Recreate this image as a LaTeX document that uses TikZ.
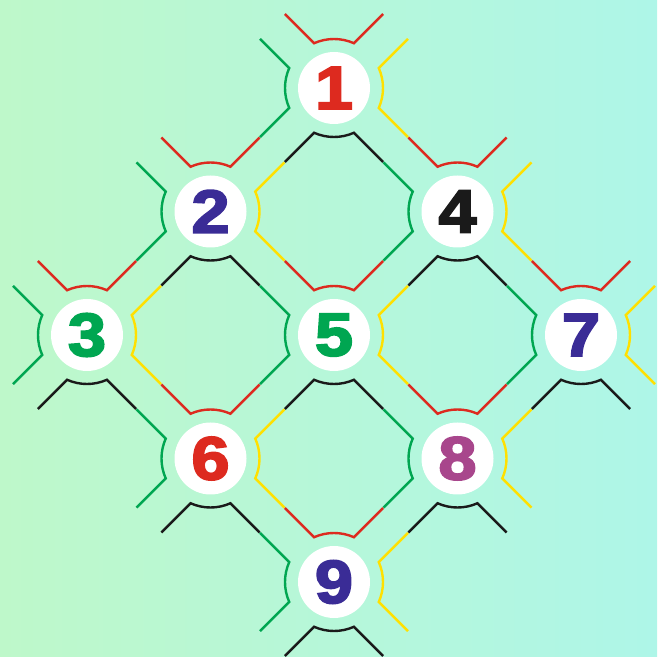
\documentclass[tikz,border=0pt]{standalone}
\usepackage{fontspec}
\newfontfamily\numfont{Liberation Sans Bold}[FakeBold=3]
\usetikzlibrary{calc}
\definecolor{bgL}{HTML}{BEF8CA}
\definecolor{bgR}{HTML}{AEF6E8}
\definecolor{cred}{HTML}{DD2A1F}
\definecolor{cgreen}{HTML}{00A651}
\definecolor{cyellow}{HTML}{FFE000}
\definecolor{cblack}{HTML}{1A1A1A}
\definecolor{cindigo}{HTML}{3A2C96}
\definecolor{cmagenta}{HTML}{A8468C}
\tikzset{
  numnode/.style={circle, fill=white, minimum size=72pt, inner sep=0pt,
    font=\numfont\fontsize{61}{61}\selectfont},
  arcline/.style={line width=2.4pt, line cap=butt, line join=miter}
}
\newcommand{\guard}[3]{% node, angle, colour
  \draw[arcline, #3] ($(#1.center)+(#2-24:49)+(#2-45:41.3)$) -- ($(#1.center)+(#2-24:49)$)
     arc[start angle=#2-24, end angle=#2+24, radius=49] -- ++(#2+45:41.3);
}
\newcommand{\dg}[1]{\scalebox{1.12}[1]{#1}}
\begin{document}
\begin{tikzpicture}[x=1pt,y=1pt]
\useasboundingbox (0,0) rectangle (657,657);
\shade[left color=bgL, right color=bgR] (0,0) rectangle (657,657);
\def\s{123.5}
\begin{scope}
\clip (0,0) rectangle (657,657);
\node[numnode, text=cred]     (n1) at (334, {322+2*\s}) {\dg{1}};
\node[numnode, text=cindigo]  (n2) at ({334-\s}, {322+\s}) {\dg{2}};
\node[numnode, text=cblack]   (n4) at ({334+\s}, {322+\s}) {\dg{4}};
\node[numnode, text=cgreen]   (n3) at ({334-2*\s}, 322) {\dg{3}};
\node[numnode, text=cgreen]   (n5) at (334, 322) {\dg{5}};
\node[numnode, text=cindigo]  (n7) at ({334+2*\s}, 322) {\dg{7}};
\node[numnode, text=cred]     (n6) at ({334-\s}, {322-\s}) {\dg{6}};
\node[numnode, text=cmagenta] (n8) at ({334+\s}, {322-\s}) {\dg{8}};
\node[numnode, text=cindigo]  (n9) at (334, {322-2*\s}) {\dg{9}};
\foreach \n in {n1,n2,n3,n4,n5,n6,n7,n8,n9}{
  \guard{\n}{90}{cred}
  \guard{\n}{180}{cgreen}
  \guard{\n}{270}{cblack}
  \guard{\n}{0}{cyellow}
}
\end{scope}
\end{tikzpicture}
\end{document}
